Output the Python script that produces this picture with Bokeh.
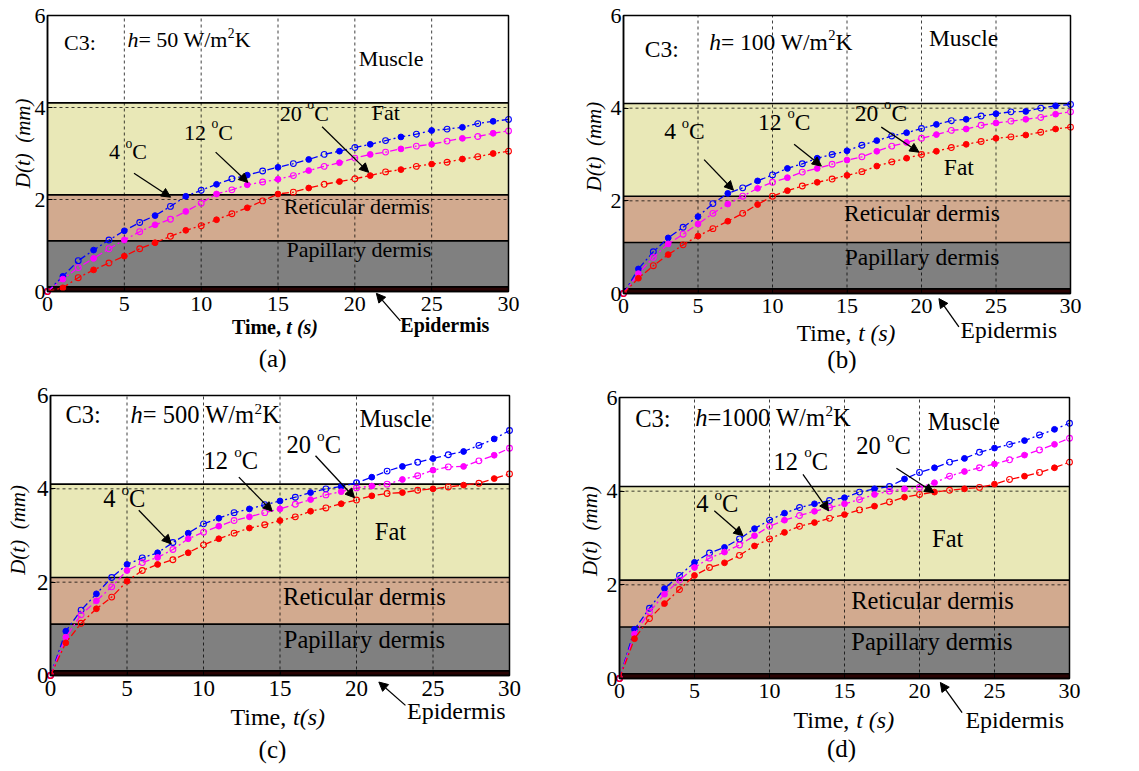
from math import pi
from bokeh.plotting import figure
from bokeh.models import Label, Arrow, NormalHead, Range1d, FixedTicker, LinearAxis
from bokeh.layouts import gridplot
from bokeh.embed import file_html
from bokeh.resources import INLINE

FONT = "Liberation Serif"

# ---------------- data ----------------
time_s = list(range(31))

a_4C = [0, 0.33, 0.67, 0.90, 1.12, 1.32, 1.50, 1.65, 1.85, 2.07, 2.20, 2.33, 2.45, 2.53, 2.62, 2.70,
        2.78, 2.87, 2.98, 3.05, 3.13, 3.20, 3.28, 3.36, 3.42, 3.50, 3.53, 3.57, 3.65, 3.70, 3.74]
a_12C = [0, 0.27, 0.52, 0.72, 0.93, 1.12, 1.30, 1.45, 1.57, 1.74, 1.92, 2.12, 2.21, 2.32, 2.38, 2.44,
         2.52, 2.63, 2.72, 2.80, 2.90, 2.98, 3.03, 3.10, 3.16, 3.20, 3.27, 3.33, 3.37, 3.44, 3.49]
a_20C = [0, 0.08, 0.30, 0.47, 0.62, 0.77, 0.93, 1.06, 1.20, 1.33, 1.43, 1.56, 1.69, 1.82, 1.97, 2.12,
         2.16, 2.25, 2.33, 2.39, 2.45, 2.52, 2.60, 2.65, 2.72, 2.77, 2.81, 2.88, 2.93, 3.00, 3.05]

b_4C = [0, 0.53, 0.90, 1.20, 1.43, 1.66, 1.94, 2.16, 2.28, 2.43, 2.56, 2.70, 2.80, 2.92, 3.00, 3.08,
        3.20, 3.30, 3.40, 3.47, 3.56, 3.65, 3.73, 3.76, 3.83, 3.88, 3.92, 3.93, 4.00, 4.05, 4.08]
b_12C = [0, 0.43, 0.78, 1.07, 1.28, 1.50, 1.73, 1.93, 2.10, 2.27, 2.40, 2.50, 2.62, 2.70, 2.79, 2.88,
         2.95, 3.07, 3.18, 3.26, 3.35, 3.43, 3.52, 3.55, 3.63, 3.68, 3.72, 3.76, 3.80, 3.87, 3.92]
b_20C = [0, 0.33, 0.60, 0.84, 1.05, 1.24, 1.40, 1.56, 1.73, 1.92, 2.10, 2.22, 2.32, 2.40, 2.47, 2.55,
         2.63, 2.75, 2.84, 2.92, 3.00, 3.07, 3.15, 3.22, 3.28, 3.35, 3.38, 3.42, 3.48, 3.55, 3.59]

c_4C = [0, 0.95, 1.40, 1.75, 2.10, 2.38, 2.52, 2.63, 2.85, 3.05, 3.25, 3.37, 3.49, 3.57, 3.66, 3.74,
        3.82, 3.92, 4.00, 4.05, 4.13, 4.25, 4.38, 4.48, 4.57, 4.65, 4.73, 4.80, 4.93, 5.07, 5.25]
c_12C = [0, 0.82, 1.30, 1.60, 1.90, 2.25, 2.42, 2.53, 2.70, 2.93, 3.07, 3.20, 3.32, 3.40, 3.49, 3.57,
         3.67, 3.77, 3.87, 3.94, 4.02, 4.06, 4.10, 4.20, 4.28, 4.40, 4.47, 4.48, 4.60, 4.72, 4.87]
c_20C = [0, 0.70, 1.12, 1.43, 1.68, 2.02, 2.25, 2.38, 2.48, 2.63, 2.80, 2.93, 3.05, 3.16, 3.23, 3.32,
         3.40, 3.52, 3.59, 3.68, 3.76, 3.85, 3.90, 3.92, 3.97, 4.00, 4.04, 4.08, 4.12, 4.22, 4.32]

d_4C = [0, 1.05, 1.50, 1.92, 2.20, 2.48, 2.68, 2.80, 2.98, 3.20, 3.38, 3.53, 3.65, 3.73, 3.80, 3.86,
        3.98, 4.05, 4.10, 4.26, 4.40, 4.50, 4.62, 4.70, 4.83, 4.92, 5.00, 5.08, 5.20, 5.32, 5.45]
d_12C = [0, 0.95, 1.42, 1.80, 2.10, 2.37, 2.57, 2.70, 2.85, 3.05, 3.25, 3.38, 3.48, 3.57, 3.65, 3.73,
         3.82, 3.93, 4.00, 4.05, 4.08, 4.18, 4.32, 4.42, 4.50, 4.58, 4.67, 4.77, 4.88, 5.00, 5.13]
d_20C = [0, 0.85, 1.28, 1.60, 1.90, 2.20, 2.37, 2.47, 2.63, 2.83, 2.98, 3.12, 3.25, 3.33, 3.42, 3.50,
         3.60, 3.68, 3.77, 3.87, 3.93, 3.98, 4.02, 4.05, 4.08, 4.15, 4.25, 4.32, 4.40, 4.50, 4.62]

temps = ["4", "12", "20"]
series_colors = ["#0000ff", "#ff00ff", "#ff0000"]

layer_names = ["Epidermis", "Papillary dermis", "Reticular dermis", "Fat", "Muscle"]
layer_bottom = [0.0, 0.1, 1.1, 2.1, 4.1]
layer_top = [0.1, 1.1, 2.1, 4.1, 6.0]
layer_colors = ["#2a0404", "#808080", "#d2aa8f", "#e9e8b7", "#ffffff"]

h_texts = ["= 50 W/m", "= 100 W/m", "= 500 W/m", "=1000 W/m"]
panel_tags = ["(a)", "(b)", "(c)", "(d)"]
x_ticks = [0, 5, 10, 15, 20, 25, 30]
y_ticks = [0, 2, 4, 6]
x_grid = [5, 10, 15, 20, 25]
y_grid = [2, 4]

# ---------------- layout / annotation placement ----------------
# size = figure (w, h); box = plot box (left, right, top, bottom) in figure pixels
panels = [
    dict(series=(a_4C, a_12C, a_20C), size=(570, 380), box=(47, 508, 15, 291), fs=22, tfs=22, bold=True,
         xl_it="t (s)", c3=(1.08, 5.24), h_at=(5.2, 5.31), muscle=(20.25, 4.89), fat=(21.1, 3.71),
         ret=(15.38, 1.68), pap=(15.55, 0.74),
         deg=[(4.0, 2.86), (8.88, 3.29), (15.12, 3.70)],
         arrows=[(5.63, 2.57, 8.01, 2.05), (10.94, 3.03, 13.04, 2.37), (17.87, 3.58, 20.9, 2.59)],
         epi_arrow=(22.96, -0.64, 21.4, -0.04), epi=(22.96, -0.89), epi_fs=20, xlab=(12.0, -0.93),
         tag=(13.75, -1.65), ylab=(-1.62, 3.22)),
    dict(series=(b_4C, b_12C, b_20C), size=(569, 380), box=(53, 500, 15, 293), fs=23.5, tfs=22, bold=False,
         xl_it="t (s)", c3=(1.43, 5.10), h_at=(5.75, 5.25), muscle=(20.5, 5.32), fat=(21.5, 2.55),
         ret=(14.8, 1.545), pap=(14.85, 0.61),
         deg=[(2.73, 3.31), (9.03, 3.51), (15.52, 3.70)],
         arrows=[(5.41, 2.89, 7.38, 2.23), (11.45, 3.22, 13.28, 2.75), (17.3, 3.59, 19.83, 3.05)],
         epi_arrow=(22.51, -0.72, 21.17, -0.11), epi=(22.62, -0.97), epi_fs=23.5, xlab=(11.63, -1.04),
         tag=(13.68, -1.63), ylab=(-1.95, 3.17)),
    dict(series=(c_4C, c_12C, c_20C), size=(570, 391), box=(50, 509, 15, 295), fs=24.5, tfs=23, bold=False,
         xl_it="t(s)", c3=(0.98, 5.39), h_at=(5.23, 5.39), muscle=(20.2, 5.32), fat=(21.2, 2.89),
         ret=(15.2, 1.5), pap=(15.25, 0.57),
         deg=[(3.44, 3.59), (10.0, 4.41), (15.42, 4.76)],
         arrows=[(5.77, 3.54, 7.89, 2.82), (12.31, 4.25, 14.49, 3.52), (17.32, 4.71, 19.87, 3.81)],
         epi_arrow=(23.2, -0.64, 21.46, -0.14), epi=(23.3, -0.96), epi_fs=24, xlab=(11.76, -1.07),
         tag=(13.6, -1.78), ylab=(-2.1, 3.12)),
    dict(series=(d_4C, d_12C, d_20C), size=(569, 391), box=(49, 499, 17, 298), fs=24.5, tfs=22, bold=False,
         xl_it="t (s)", c3=(1.05, 5.36), h_at=(5.05, 5.39), muscle=(20.55, 5.29), fat=(20.84, 2.8),
         ret=(15.45, 1.48), pap=(15.45, 0.59),
         deg=[(5.11, 3.54), (10.27, 4.45), (15.79, 4.78)],
         arrows=[(6.32, 3.58, 8.23, 3.05), (12.23, 4.36, 13.94, 3.58), (18.46, 4.49, 20.95, 3.97)],
         epi_arrow=(22.84, -0.73, 21.39, -0.085), epi=(23.06, -1.08), epi_fs=24, xlab=(11.6, -1.08),
         tag=(13.83, -1.70), ylab=(-2.0, 3.15)),
]

# Times / Liberation Serif advance widths (per 1000 em)
WN = {" ": 250, "=": 564, ":": 278, "/": 278, "W": 944, "m": 778, "K": 722, "C": 667, "o": 500,
      "T": 611, "i": 278, "e": 444, ",": 250, "(": 333, ")": 333, "s": 389, "t": 278}
WB = {" ": 250, "T": 667, "i": 278, "m": 833, "e": 444, ",": 250}

BASE_FIX = 0.37  # em: lift so that the glyph baseline sits on the given y


def text_w(s, fs, style="normal"):
    tab = WB if style == "bold" else WN
    return sum(tab.get(c, 500) for c in s) * fs / 1000.0


def label(p, x, y, text, fs, ppy, style="normal", align="left", baseline="alphabetic", angle=0.0):
    if angle == 0.0:
        y = y + BASE_FIX * fs / ppy
    p.add_layout(Label(x=x, y=y, text=text, text_font=FONT, text_font_size=f"{fs:.1f}px",
                       text_font_style=style, text_align=align, text_baseline=baseline,
                       text_color="black", angle=angle))


def rich(p, x, y, parts, fs, ppx, ppy):
    cx = x
    for text, style, kind in parts:
        f = fs
        yy = y
        if kind == "sup":
            f = fs * 0.62
            yy = y + 0.40 * fs / ppy
        elif kind == "deg":
            f = fs * 0.62
            yy = y + 0.52 * fs / ppy
        label(p, cx, yy, text, f, ppy, style)
        cx += text_w(text, f, style) / ppx


def style_axis(ax, tfs):
    ax.major_label_text_font = FONT
    ax.major_label_text_font_size = f"{tfs}px"
    ax.major_label_text_color = "black"
    ax.axis_line_color = "black"
    ax.axis_line_width = 1.5
    ax.major_tick_in = 5
    ax.major_tick_out = 0
    ax.major_tick_line_color = "black"
    ax.minor_tick_line_color = None


figs = []
for i, cfg in enumerate(panels):
    W, H = cfg["size"]
    L, R, T, B = cfg["box"]
    ppx = (R - L) / 30.0
    ppy = (B - T) / 6.0
    fs = cfg["fs"]

    xr = Range1d(-L / ppx, 30 + (W - R) / ppx)
    yr = Range1d(-(H - B) / ppy, 6 + T / ppy)
    p = figure(width=W, height=H, x_range=xr, y_range=yr, output_backend="svg",
               toolbar_location=None, title=None, x_axis_type=None, y_axis_type=None,
               min_border=0)
    p.background_fill_color = "white"
    p.border_fill_color = "white"
    p.outline_line_color = None

    # tissue layers
    nl = len(layer_bottom)
    p.quad(left=[x_ticks[0]] * nl, right=[x_ticks[-1]] * nl, bottom=layer_bottom, top=layer_top,
           fill_color=layer_colors, line_color=None, level="image")

    # dashed grid
    p.segment(x0=x_grid, y0=[y_ticks[0]] * len(x_grid), x1=x_grid, y1=[y_ticks[-1]] * len(x_grid),
              line_color="black", line_dash="3 3", line_width=1, line_alpha=0.75, level="underlay")
    p.segment(x0=[x_ticks[0]] * len(y_grid), y0=y_grid, x1=[x_ticks[-1]] * len(y_grid), y1=y_grid,
              line_color="black", line_dash="3 3", line_width=1, line_alpha=0.75, level="underlay")

    # layer boundaries
    bnd = layer_bottom[1:]
    p.segment(x0=[x_ticks[0]] * len(bnd), y0=bnd, x1=[x_ticks[-1]] * len(bnd), y1=bnd,
              line_color="black", line_width=1.6)

    # curves
    for vals, col in zip(cfg["series"], series_colors):
        p.line(time_s, vals, line_color=col, line_width=1.3, line_dash="7 3 2 3")
        p.scatter(time_s[1::2], vals[1::2], size=5.8, fill_color=col, line_color=col)
        p.scatter(time_s[0::2], vals[0::2], size=5.8, fill_color=None, line_color=col, line_width=1.1)

    # plot box
    p.quad(left=[x_ticks[0]], right=[x_ticks[-1]], bottom=[y_ticks[0]], top=[y_ticks[-1]],
           fill_color=None, line_color="black", line_width=1.5)

    # axes at the plot box edges
    xa = LinearAxis(fixed_location=y_ticks[0], bounds=(x_ticks[0], x_ticks[-1]),
                    ticker=FixedTicker(ticks=x_ticks))
    style_axis(xa, cfg["tfs"])
    xa.major_label_standoff = 5
    p.add_layout(xa, "below")
    ya = LinearAxis(fixed_location=x_ticks[0], bounds=(y_ticks[0], y_ticks[-1]),
                    ticker=FixedTicker(ticks=y_ticks))
    style_axis(ya, cfg["tfs"])
    ya.major_label_standoff = 2
    p.add_layout(ya, "left")

    # texts inside the box
    label(p, cfg["c3"][0], cfg["c3"][1], "C3:", fs, ppy)
    rich(p, cfg["h_at"][0], cfg["h_at"][1],
         [("h", "italic", None), (h_texts[i], "normal", None), ("2", "normal", "sup"), ("K", "normal", None)],
         fs, ppx, ppy)
    label(p, cfg["muscle"][0], cfg["muscle"][1], layer_names[4], fs, ppy)
    label(p, cfg["fat"][0], cfg["fat"][1], layer_names[3], fs, ppy)
    label(p, cfg["ret"][0], cfg["ret"][1], layer_names[2], fs, ppy)
    label(p, cfg["pap"][0], cfg["pap"][1], layer_names[1], fs, ppy)

    for (dx, dy), tmp in zip(cfg["deg"], temps):
        rich(p, dx, dy, [(tmp + " ", "normal", None), ("o", "normal", "deg"), (" C", "normal", None)],
             fs, ppx, ppy)
    for (x0, y0, x1, y1) in cfg["arrows"] + [cfg["epi_arrow"]]:
        p.add_layout(Arrow(x_start=x0, y_start=y0, x_end=x1, y_end=y1, line_color="black", line_width=1.3,
                           end=NormalHead(size=9, fill_color="black", line_color="black")))

    # texts around the box
    st = "bold" if cfg["bold"] else "normal"
    label(p, cfg["epi"][0], cfg["epi"][1], layer_names[0], cfg["epi_fs"], ppy, st)
    xl_fs = cfg["epi_fs"]
    label(p, cfg["xlab"][0], cfg["xlab"][1], "Time, ", xl_fs, ppy, st)
    xoff = text_w("Time, ", xl_fs, st) / ppx
    label(p, cfg["xlab"][0] + xoff, cfg["xlab"][1], cfg["xl_it"], xl_fs, ppy,
          "bold italic" if cfg["bold"] else "italic")
    label(p, cfg["tag"][0], cfg["tag"][1], panel_tags[i], 25, ppy)
    label(p, cfg["ylab"][0], cfg["ylab"][1], "D(t)\u00a0\u00a0(mm)", 21, ppy, "italic", align="center",
          baseline="middle", angle=pi / 2)

    figs.append(p)

grid = gridplot([[figs[0], figs[1]], [figs[2], figs[3]]], toolbar_location=None)
open("out.html", "w").write(file_html(grid, INLINE))
